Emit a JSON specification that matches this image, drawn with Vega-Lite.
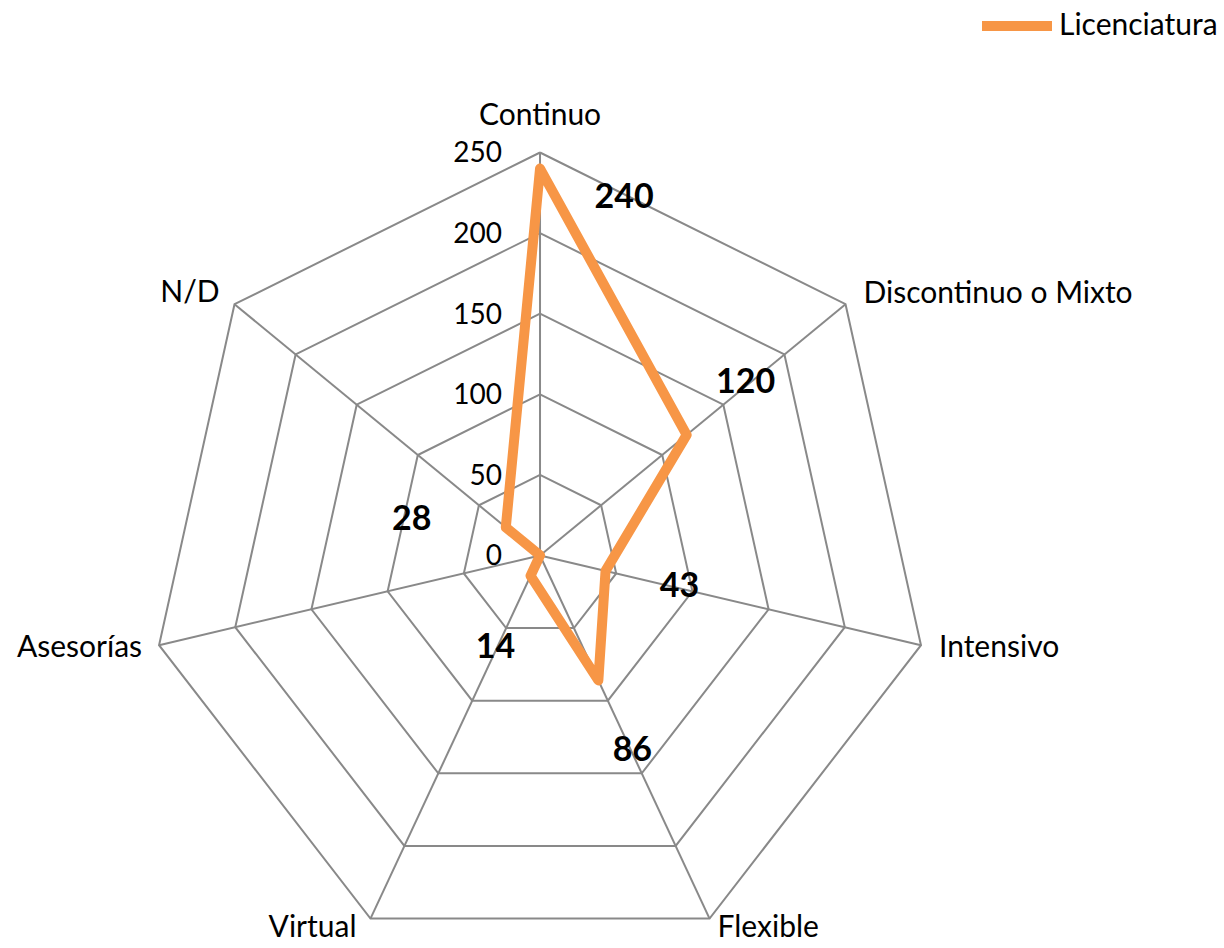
{
  "$schema": "https://vega.github.io/schema/vega-lite/v6.json",
  "width": 1224,
  "height": 948,
  "autosize": {"type": "none"},
  "padding": 0,
  "background": "white",
  "config": {"view": {"stroke": null}, "font": "Lato", "text": {"font": "Lato", "color": "#000000"}},
  "data": {"values": [
    {"categoria": "Continuo", "valor": 240, "serie": "Licenciatura"},
    {"categoria": "Discontinuo o Mixto", "valor": 120, "serie": "Licenciatura"},
    {"categoria": "Intensivo", "valor": 43, "serie": "Licenciatura"},
    {"categoria": "Flexible", "valor": 86, "serie": "Licenciatura"},
    {"categoria": "Virtual", "valor": 14, "serie": "Licenciatura"},
    {"categoria": "Asesorías", "valor": 0, "serie": "Licenciatura"},
    {"categoria": "N/D", "valor": 28, "serie": "Licenciatura"}
  ]},
  "transform": [
    {"window": [{"op": "row_number", "as": "rn"}]},
    {"calculate": "(datum.rn-1)*2*PI/7", "as": "a"}
  ],
  "encoding": {
    "x": {"field": "px", "type": "quantitative", "scale": {"domain": [-345.5, 437.6], "nice": false, "zero": false}, "axis": null},
    "y": {"field": "py", "type": "quantitative", "scale": {"domain": [-243.5, 344.6], "nice": false, "zero": false}, "axis": null}
  },
  "layer": [
    {
      "transform": [
        {"calculate": "datum.rn==1?[0,7]:[datum.rn-1]", "as": "ords"},
        {"flatten": ["ords"], "as": ["ord"]},
        {"calculate": "[50,100,150,200,250]", "as": "lvs"},
        {"flatten": ["lvs"], "as": ["lv"]},
        {"calculate": "datum.lv*sin(datum.a)", "as": "px"},
        {"calculate": "datum.lv*cos(datum.a)", "as": "py"}
      ],
      "mark": {"type": "line", "color": "#898989", "strokeWidth": 2},
      "encoding": {"detail": {"field": "lv", "type": "nominal"}, "order": {"field": "ord", "type": "quantitative"}}
    },
    {
      "transform": [
        {"calculate": "250*sin(datum.a)", "as": "px"},
        {"calculate": "250*cos(datum.a)", "as": "py"},
        {"calculate": "0", "as": "z"}
      ],
      "mark": {"type": "rule", "color": "#898989", "strokeWidth": 2},
      "encoding": {"x2": {"field": "z"}, "y2": {"field": "z"}}
    },
    {
      "data": {"values": [{"t": 0}, {"t": 50}, {"t": 100}, {"t": 150}, {"t": 200}, {"t": 250}]},
      "transform": [
        {"calculate": "0", "as": "px"},
        {"calculate": "datum.t", "as": "py"}
      ],
      "mark": {"type": "text", "align": "right", "baseline": "middle", "dx": -38, "dy": 2, "fontSize": 28},
      "encoding": {"text": {"field": "t", "type": "quantitative"}}
    },
    {
      "transform": [
        {"calculate": "datum.rn==1?[0,7]:[datum.rn-1]", "as": "ords"},
        {"flatten": ["ords"], "as": ["ord"]},
        {"calculate": "datum.valor*sin(datum.a)", "as": "px"},
        {"calculate": "datum.valor*cos(datum.a)", "as": "py"}
      ],
      "mark": {"type": "line", "strokeWidth": 10, "strokeJoin": "round", "strokeCap": "round"},
      "encoding": {
        "order": {"field": "ord", "type": "quantitative"},
        "color": {"field": "serie", "type": "nominal", "scale": {"range": ["#F79646"]},
          "legend": {"title": null, "orient": "none", "legendX": 977, "legendY": -14, "symbolType": "stroke", "symbolSize": 4900, "symbolStrokeWidth": 10, "labelFontSize": 30, "labelFont": "Lato", "labelColor": "#000000", "labelOffset": 2, "padding": 0}}
      }
    },
    {
      "transform": [{"filter": "datum.categoria=='Continuo'"}, {"calculate": "250*sin(datum.a)", "as": "px"}, {"calculate": "250*cos(datum.a)", "as": "py"}],
      "mark": {"type": "text", "align": "center", "baseline": "alphabetic", "dy": -27, "fontSize": 30},
      "encoding": {"text": {"field": "categoria"}}
    },
    {
      "transform": [{"filter": "datum.categoria=='Discontinuo o Mixto'"}, {"calculate": "250*sin(datum.a)", "as": "px"}, {"calculate": "250*cos(datum.a)", "as": "py"}],
      "mark": {"type": "text", "align": "left", "baseline": "alphabetic", "dx": 18, "dy": -1, "fontSize": 30},
      "encoding": {"text": {"field": "categoria"}}
    },
    {
      "transform": [{"filter": "datum.categoria=='Intensivo'"}, {"calculate": "250*sin(datum.a)", "as": "px"}, {"calculate": "250*cos(datum.a)", "as": "py"}],
      "mark": {"type": "text", "align": "left", "baseline": "alphabetic", "dx": 18, "dy": 12, "fontSize": 30},
      "encoding": {"text": {"field": "categoria"}}
    },
    {
      "transform": [{"filter": "datum.categoria=='Flexible'"}, {"calculate": "250*sin(datum.a)", "as": "px"}, {"calculate": "250*cos(datum.a)", "as": "py"}],
      "mark": {"type": "text", "align": "left", "baseline": "alphabetic", "dx": 8, "dy": 18, "fontSize": 30},
      "encoding": {"text": {"field": "categoria"}}
    },
    {
      "transform": [{"filter": "datum.categoria=='Virtual'"}, {"calculate": "250*sin(datum.a)", "as": "px"}, {"calculate": "250*cos(datum.a)", "as": "py"}],
      "mark": {"type": "text", "align": "right", "baseline": "alphabetic", "dx": -14, "dy": 18, "fontSize": 30},
      "encoding": {"text": {"field": "categoria"}}
    },
    {
      "transform": [{"filter": "datum.categoria=='Asesorías'"}, {"calculate": "250*sin(datum.a)", "as": "px"}, {"calculate": "250*cos(datum.a)", "as": "py"}],
      "mark": {"type": "text", "align": "right", "baseline": "alphabetic", "dx": -17, "dy": 12, "fontSize": 30},
      "encoding": {"text": {"field": "categoria"}}
    },
    {
      "transform": [{"filter": "datum.categoria=='N/D'"}, {"calculate": "250*sin(datum.a)", "as": "px"}, {"calculate": "250*cos(datum.a)", "as": "py"}],
      "mark": {"type": "text", "align": "right", "baseline": "alphabetic", "dx": -15, "dy": -2, "fontSize": 30},
      "encoding": {"text": {"field": "categoria"}}
    },
    {
      "transform": [{"filter": "datum.categoria=='Continuo'"}, {"calculate": "datum.valor*sin(datum.a)", "as": "px"}, {"calculate": "datum.valor*cos(datum.a)", "as": "py"}],
      "mark": {"type": "text", "align": "center", "baseline": "middle", "dx": 84, "dy": 29, "fontSize": 34, "fontWeight": "bold"},
      "encoding": {"text": {"field": "valor", "type": "quantitative"}}
    },
    {
      "transform": [{"filter": "datum.categoria=='Discontinuo o Mixto'"}, {"calculate": "datum.valor*sin(datum.a)", "as": "px"}, {"calculate": "datum.valor*cos(datum.a)", "as": "py"}],
      "mark": {"type": "text", "align": "center", "baseline": "middle", "dx": 59, "dy": -52, "fontSize": 34, "fontWeight": "bold"},
      "encoding": {"text": {"field": "valor", "type": "quantitative"}}
    },
    {
      "transform": [{"filter": "datum.categoria=='Intensivo'"}, {"calculate": "datum.valor*sin(datum.a)", "as": "px"}, {"calculate": "datum.valor*cos(datum.a)", "as": "py"}],
      "mark": {"type": "text", "align": "center", "baseline": "middle", "dx": 74, "dy": 16, "fontSize": 34, "fontWeight": "bold"},
      "encoding": {"text": {"field": "valor", "type": "quantitative"}}
    },
    {
      "transform": [{"filter": "datum.categoria=='Flexible'"}, {"calculate": "datum.valor*sin(datum.a)", "as": "px"}, {"calculate": "datum.valor*cos(datum.a)", "as": "py"}],
      "mark": {"type": "text", "align": "center", "baseline": "middle", "dx": 34, "dy": 71, "fontSize": 34, "fontWeight": "bold"},
      "encoding": {"text": {"field": "valor", "type": "quantitative"}}
    },
    {
      "transform": [{"filter": "datum.categoria=='Virtual'"}, {"calculate": "datum.valor*sin(datum.a)", "as": "px"}, {"calculate": "datum.valor*cos(datum.a)", "as": "py"}],
      "mark": {"type": "text", "align": "center", "baseline": "middle", "dx": -35, "dy": 72, "fontSize": 34, "fontWeight": "bold"},
      "encoding": {"text": {"field": "valor", "type": "quantitative"}}
    },
    {
      "transform": [{"filter": "datum.categoria=='N/D'"}, {"calculate": "datum.valor*sin(datum.a)", "as": "px"}, {"calculate": "datum.valor*cos(datum.a)", "as": "py"}],
      "mark": {"type": "text", "align": "center", "baseline": "middle", "dx": -94, "dy": -7, "fontSize": 34, "fontWeight": "bold"},
      "encoding": {"text": {"field": "valor", "type": "quantitative"}}
    }
  ]
}
